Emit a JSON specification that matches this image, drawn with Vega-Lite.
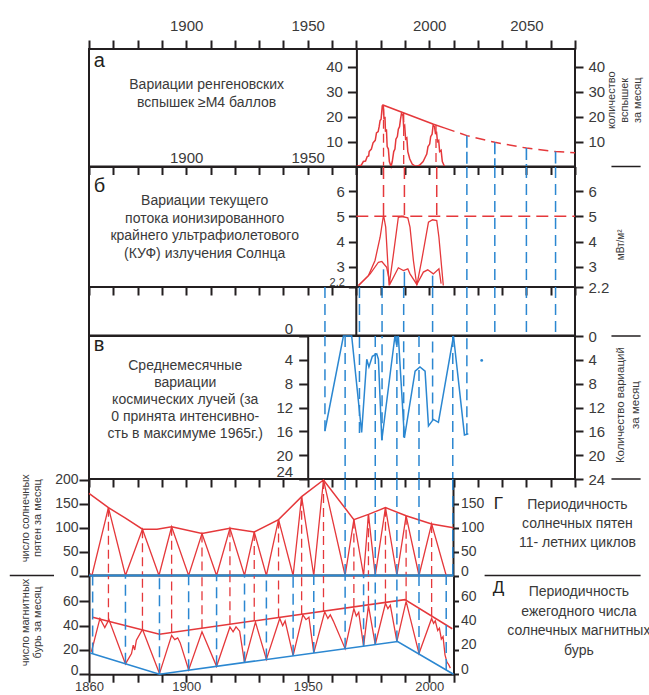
{
 "$schema": "https://vega.github.io/schema/vega-lite/v6.json",
 "background": "white",
 "padding": {"left": 8, "top": 17, "right": 0, "bottom": 0},
 "spacing": 0,
 "bounds": "flush",
 "config": {
  "font": "Liberation Sans",
  "view": {"stroke": "#231f20", "strokeWidth": 2},
  "axis": {"labelFont": "Liberation Sans", "labelFontSize": 15, "labelColor": "#3a3a3a", "tickColor": "#231f20", "domainColor": "#231f20", "tickWidth": 2, "domainWidth": 2, "grid": false, "labelOverlap": false, "labelFlush": false, "labelBound": false},
  "text": {"font": "Liberation Sans", "color": "#3a3a3a"}
 },
 "resolve": {"scale": {"x": "independent", "y": "independent"}},
 "datasets": {
  "a_flare": [{"year":1970,"v":0},{"year":1972,"v":0.5},{"year":1972.9,"v":2},{"year":1973.8,"v":2.2},{"year":1974.5,"v":4},{"year":1975.1,"v":4.2},{"year":1975.3,"v":6},{"year":1976.2,"v":7},{"year":1976.9,"v":9.5},{"year":1977.8,"v":10.5},{"year":1978.3,"v":13.5},{"year":1979,"v":14},{"year":1979.4,"v":16},{"year":1979.8,"v":18.5},{"year":1980.2,"v":19},{"year":1980.7,"v":24.6},{"year":1981.2,"v":23},{"year":1981.4,"v":19},{"year":1981.8,"v":20},{"year":1982,"v":14},{"year":1982.4,"v":15},{"year":1982.7,"v":8},{"year":1983.2,"v":7},{"year":1983.6,"v":2},{"year":1984.3,"v":0},{"year":1984.8,"v":2},{"year":1985.4,"v":6},{"year":1985.9,"v":7},{"year":1986.3,"v":11},{"year":1986.9,"v":12},{"year":1987.3,"v":15},{"year":1987.8,"v":16},{"year":1988.2,"v":19},{"year":1988.6,"v":21.3},{"year":1989.2,"v":20.5},{"year":1989.5,"v":16},{"year":1989.9,"v":16.5},{"year":1990.3,"v":11},{"year":1990.8,"v":11.5},{"year":1991.2,"v":6},{"year":1992,"v":3},{"year":1993,"v":1},{"year":1994.5,"v":0},{"year":1996,"v":0.5},{"year":1997.5,"v":2},{"year":1998.5,"v":4},{"year":1999,"v":5},{"year":1999.5,"v":8},{"year":2000.2,"v":9},{"year":2000.6,"v":12},{"year":2001.2,"v":13},{"year":2001.6,"v":16.5},{"year":2002.2,"v":16},{"year":2002.6,"v":13},{"year":2003,"v":14},{"year":2003.4,"v":10},{"year":2003.9,"v":10.5},{"year":2004.3,"v":6},{"year":2004.9,"v":6.5},{"year":2005.4,"v":2},{"year":2006.3,"v":0}],
  "a_env": [{"year":1980.7,"v":24.8},{"year":1988.8,"v":21.8},{"year":2001.8,"v":17},{"year":2006.5,"v":15.4}],
  "a_env_d": [{"year":2006.5,"v":15.4},{"year":2015.5,"v":12.4},{"year":2027,"v":9.7},{"year":2040,"v":7.4},{"year":2052,"v":6.0},{"year":2060,"v":5.5}],
  "a_red_v": [{"year":1981.2,"top":24.4},{"year":1989.5,"top":21.5},{"year":2002.8,"top":16.7}],
  "a_blue_v": [{"year":2015.5,"top":12.4},{"year":2027,"top":9.7},{"year":2040,"top":7.4},{"year":2052,"top":6.0}],
  "b_up": [{"year":1970.9,"v":2.26},{"year":1975,"v":2.65},{"year":1977.7,"v":3.25},{"year":1979.8,"v":4.17},{"year":1981.2,"v":5.05},{"year":1982.1,"v":4.57},{"year":1983.5,"v":2.26},{"year":1985.3,"v":3.51},{"year":1987.3,"v":4.96},{"year":1988.7,"v":4.99},{"year":1991.2,"v":4.94},{"year":1992.1,"v":4.57},{"year":1993.5,"v":3.25},{"year":1994.9,"v":2.26},{"year":1996.9,"v":3.25},{"year":1999.7,"v":4.77},{"year":2001.4,"v":4.86},{"year":2003.1,"v":4.83},{"year":2004,"v":4.17},{"year":2005.8,"v":2.26}],
  "b_low": [{"year":1970.9,"v":2.26},{"year":1975.7,"v":2.72},{"year":1979.1,"v":3.18},{"year":1980.5,"v":3.21},{"year":1982.5,"v":2.98},{"year":1983.9,"v":2.33},{"year":1987.3,"v":2.96},{"year":1989.4,"v":2.85},{"year":1991.2,"v":2.92},{"year":1992.1,"v":2.72},{"year":1994.9,"v":2.3},{"year":1997.6,"v":2.79},{"year":1999.4,"v":2.88},{"year":2001.7,"v":2.72},{"year":2004,"v":2.92},{"year":2004.9,"v":2.33}],
  "b_red_v": [{"year":1981.2,"top":6.95,"bot":5.05},{"year":1989.8,"top":6.95,"bot":4.98},{"year":2003.1,"top":6.95,"bot":4.83}],
  "b_blue_s": [{"year":1981.2,"top":2.9},{"year":1989.8,"top":2.8},{"year":2001.4,"top":2.65}],
  "b_blue_d": [{"year":2015.5},{"year":2027},{"year":2040},{"year":2052}],
  "s_blue": [{"year":1957.1},{"year":1971.3},{"year":1980.6},{"year":1989.5},{"year":2001.4},{"year":2015.5},{"year":2027},{"year":2040},{"year":2052}],
  "c_cr": [{"year":1957.1,"v":15.9},{"year":1964.7,"v":0},{"year":1968.1,"v":0},{"year":1972.2,"v":16.2},{"year":1974.3,"v":3.9},{"year":1975.2,"v":5.2},{"year":1976.6,"v":3.4},{"year":1978.4,"v":3.0},{"year":1979.1,"v":3.9},{"year":1980.5,"v":17.5},{"year":1985.9,"v":0},{"year":1986.6,"v":1.5},{"year":1987.3,"v":0},{"year":1989.8,"v":17.1},{"year":1994.2,"v":5.9},{"year":1996.2,"v":5.2},{"year":1998.3,"v":5.9},{"year":1999.7,"v":15.1},{"year":2001.7,"v":14},{"year":2003.8,"v":14.5},{"year":2010,"v":0},{"year":2014.5,"v":16.6},{"year":2016.1,"v":16.4}],
  "c_blue_full": [{"year":1965.4},{"year":1977.8},{"year":1986.7},{"year":1995.8},{"year":2009.7}],
  "c_blue_part": [{"year":1957.1,"bot":16},{"year":1971.3,"bot":16.3},{"year":1980.6,"bot":17.5},{"year":1989.5,"bot":17},{"year":2001.4,"bot":14.2},{"year":2015.5,"bot":16.5}],
  "c_dot": [{"year":2021.6,"v":4.1}],
  "d_ss": [{"year":1860.3,"v":4},{"year":1861.2,"v":0},{"year":1868,"v":142},{"year":1875,"v":0},{"year":1882,"v":97},{"year":1888.8,"v":0},{"year":1894,"v":102},{"year":1901,"v":0},{"year":1906.5,"v":88},{"year":1912.5,"v":0},{"year":1918,"v":99},{"year":1924,"v":0},{"year":1928,"v":91},{"year":1933,"v":0},{"year":1938,"v":117},{"year":1944,"v":0},{"year":1947.5,"v":165},{"year":1952.5,"v":0},{"year":1956.5,"v":200},{"year":1965.4,"v":0},{"year":1969,"v":117},{"year":1973,"v":0},{"year":1975,"v":128},{"year":1977.8,"v":0},{"year":1982,"v":142},{"year":1986.7,"v":0},{"year":1990.5,"v":125},{"year":1995.8,"v":0},{"year":2001,"v":108},{"year":2007,"v":0}],
  "d_env": [{"year":1860,"v":172},{"year":1868,"v":142},{"year":1875,"v":120},{"year":1882,"v":97},{"year":1888,"v":97},{"year":1894,"v":102},{"year":1906.5,"v":88},{"year":1918,"v":99},{"year":1928,"v":91},{"year":1938,"v":117},{"year":1947.5,"v":165},{"year":1956.5,"v":200},{"year":1969,"v":117},{"year":1975,"v":128},{"year":1982,"v":142},{"year":1990.5,"v":125},{"year":2001,"v":108},{"year":2010,"v":100}],
  "d_red_v": [{"year":1868,"top":142},{"year":1882,"top":97},{"year":1894,"top":102},{"year":1906.5,"top":88},{"year":1918,"top":99},{"year":1928,"top":91},{"year":1938,"top":117},{"year":1947.5,"top":165},{"year":1956.5,"top":200},{"year":1969,"top":117},{"year":1975,"top":128},{"year":1982,"top":142},{"year":1990.5,"top":125},{"year":2001,"top":108}],
  "d_blue_v": [{"year":1965.4},{"year":1977.8},{"year":1986.7},{"year":1995.8},{"year":2009.7}],
  "e_st": [{"year":1861,"v":18.5},{"year":1864.5,"v":46},{"year":1866.5,"v":38.5},{"year":1868.2,"v":45},{"year":1875,"v":8.5},{"year":1877.5,"v":17},{"year":1878.2,"v":24},{"year":1878.8,"v":20},{"year":1879.5,"v":28},{"year":1882,"v":37},{"year":1889,"v":0.5},{"year":1894,"v":32},{"year":1895.3,"v":28.5},{"year":1896.5,"v":30},{"year":1897.5,"v":26},{"year":1901,"v":3.5},{"year":1906.5,"v":35},{"year":1912.5,"v":6.5},{"year":1918,"v":39},{"year":1919.3,"v":35},{"year":1920.5,"v":39},{"year":1922,"v":35.5},{"year":1924,"v":9.6},{"year":1928.5,"v":43},{"year":1933,"v":12.2},{"year":1938.5,"v":46},{"year":1939.7,"v":40},{"year":1940.7,"v":44},{"year":1944,"v":15.3},{"year":1948,"v":49},{"year":1949.3,"v":45},{"year":1950.5,"v":47},{"year":1952.5,"v":17.6},{"year":1957,"v":51.5},{"year":1958.3,"v":46},{"year":1959.3,"v":49},{"year":1960.5,"v":44},{"year":1965.4,"v":21},{"year":1969,"v":54},{"year":1970,"v":48},{"year":1971,"v":51},{"year":1973,"v":23.2},{"year":1975,"v":56.5},{"year":1977.8,"v":24.5},{"year":1982,"v":58.5},{"year":1983,"v":54},{"year":1984,"v":57},{"year":1986.7,"v":27},{"year":1990.5,"v":60},{"year":1995.8,"v":17},{"year":2001,"v":46},{"year":2001.8,"v":42},{"year":2002.5,"v":44},{"year":2003.5,"v":36},{"year":2004.2,"v":38},{"year":2005,"v":29},{"year":2005.7,"v":31},{"year":2006.5,"v":16},{"year":2007.3,"v":10},{"year":2008,"v":8},{"year":2008.7,"v":5}],
  "e_top": [{"year":1861.5,"v":47},{"year":1889,"v":33},{"year":1990,"v":61.5},{"year":2009.5,"v":37.5}],
  "e_bot": [{"year":1860.5,"v":17.5},{"year":1889,"v":0},{"year":1987,"v":27},{"year":2010,"v":0}],
  "e_blue_v": [{"year":1861.5,"bot":17.1},{"year":1875,"bot":8.7},{"year":1889,"bot":0},{"year":1901,"bot":3.3},{"year":1912.5,"bot":6.5},{"year":1924,"bot":9.6},{"year":1933,"bot":12.1},{"year":1944,"bot":15.2},{"year":1952.5,"bot":17.5},{"year":1965.4,"bot":21},{"year":1973,"bot":23.1},{"year":1977.8,"bot":24.4},{"year":1986.7,"bot":26.9},{"year":1995.8,"bot":16.7},{"year":2007,"bot":3.5}],
  "e_red_v": [{"year":1868,"top":43.7},{"year":1882,"top":36.6},{"year":1894,"top":34.4},{"year":1906.5,"top":37.9},{"year":1918,"top":41.2},{"year":1928,"top":44},{"year":1938,"top":46.8},{"year":1947.5,"top":49.5},{"year":1956.5,"top":52},{"year":1969,"top":55.5},{"year":1975,"top":57.2},{"year":1982,"top":59.2},{"year":1990.5,"top":60.9},{"year":2001,"top":48}],
  "one": [{}]
 },
 "vconcat": [
  {
   "width": 486, "height": 117.5,
   "resolve": {"axis": {"x": "independent", "y": "independent"}},
   "layer": [
    {"data": {"name": "a_flare"}, "mark": {"type": "line", "color": "#e5383b", "strokeWidth": 1.5},
     "encoding": {
      "x": {"field": "year", "type": "quantitative", "scale": {"domain": [1860, 2060], "nice": false, "zero": false}, "axis": {"orient": "top", "title": null, "values": [1860,1870,1880,1890,1900,1910,1920,1930,1940,1950,1960,1970,1980,1990,2000,2010,2020,2030,2040,2050,2060], "format": "d", "labelExpr": "datum.value == 1900 || datum.value == 1950 || datum.value == 2000 ? datum.label : (datum.value == 2040 ? '2050' : '')", "tickSize": 9, "labelPadding": 7, "domain": false}},
      "y": {"field": "v", "type": "quantitative", "scale": {"domain": [0, 47.2], "nice": false, "zero": false}, "axis": {"orient": "left", "title": null, "offset": -267.4, "values": [10,20,30,40], "format": ".3~g", "tickSize": 9, "labelPadding": 5}}}},
    {"data": {"name": "a_env"}, "mark": {"type": "line", "color": "#e5383b", "strokeWidth": 1.5},
     "encoding": {
      "x": {"field": "year", "type": "quantitative", "scale": {"domain": [1860, 2060], "nice": false, "zero": false}, "axis": {"orient": "bottom", "title": null, "values": [1860,1870,1880,1890,1900,1910,1920,1930,1940,1950,1960,1970,1980,1990,2000,2010,2020,2030,2040,2050,2060], "format": "d", "labelExpr": "datum.value == 1900 || datum.value == 1950 ? datum.label : ''", "tickSize": 8, "labelPadding": -12.5, "labelBaseline": "alphabetic", "domain": false}},
      "y": {"field": "v", "type": "quantitative", "scale": {"domain": [0, 47.2], "nice": false, "zero": false}, "axis": {"orient": "right", "title": null, "values": [10,20,30,40], "format": ".3~g", "tickSize": 8, "labelPadding": 5, "domain": false}}}},
    {"data": {"name": "a_env_d"}, "mark": {"type": "line", "color": "#e5383b", "strokeWidth": 1.5, "strokeDash": [10, 6]},
     "encoding": {
      "x": {"field": "year", "type": "quantitative", "scale": {"domain": [1860, 2060], "nice": false, "zero": false}, "axis": null},
      "y": {"field": "v", "type": "quantitative", "scale": {"domain": [0, 47.2], "nice": false, "zero": false}, "axis": null}}},
    {"data": {"name": "a_red_v"}, "mark": {"type": "rule", "color": "#e5383b", "strokeWidth": 1.3, "strokeDash": [9, 5]},
     "encoding": {
      "x": {"field": "year", "type": "quantitative", "scale": {"domain": [1860, 2060], "nice": false, "zero": false}, "axis": null},
      "y": {"field": "top", "type": "quantitative", "scale": {"domain": [0, 47.2], "nice": false, "zero": false}, "axis": null},
      "y2": {"datum": 0}}},
    {"data": {"name": "a_blue_v"}, "mark": {"type": "rule", "color": "#2b87d1", "strokeWidth": 1.6, "strokeDash": [12, 4]},
     "encoding": {
      "x": {"field": "year", "type": "quantitative", "scale": {"domain": [1860, 2060], "nice": false, "zero": false}, "axis": null},
      "y": {"field": "top", "type": "quantitative", "scale": {"domain": [0, 47.2], "nice": false, "zero": false}, "axis": null},
      "y2": {"datum": 0}}},
    {"data": {"name": "one"}, "mark": {"type": "text", "fontSize": 20, "align": "left", "baseline": "alphabetic", "color": "#231f20"},
     "encoding": {
      "x": {"datum": 1862, "type": "quantitative", "scale": {"domain": [1860, 2060], "nice": false, "zero": false}, "axis": null},
      "y": {"datum": 39.8, "type": "quantitative", "scale": {"domain": [0, 47.2], "nice": false, "zero": false}, "axis": null},
      "text": {"value": "а"}}},
    {"data": {"name": "one"}, "mark": {"type": "text", "fontSize": 14, "align": "center", "baseline": "middle", "lineHeight": 18},
     "encoding": {
      "x": {"datum": 1908.4, "type": "quantitative", "scale": {"domain": [1860, 2060], "nice": false, "zero": false}, "axis": null},
      "y": {"datum": 32.6, "type": "quantitative", "scale": {"domain": [0, 47.2], "nice": false, "zero": false}, "axis": null},
      "text": {"value": ["Вариации ренгеновских", "вспышек ≥М4 баллов"]}}},
    {"data": {"name": "one"}, "mark": {"type": "text", "fontSize": 11, "align": "center", "baseline": "middle", "lineHeight": 13, "angle": 270},
     "encoding": {
      "x": {"datum": 2075.1, "type": "quantitative", "scale": {"domain": [1860, 2060], "nice": false, "zero": false}, "axis": null},
      "y": {"datum": 26.6, "type": "quantitative", "scale": {"domain": [0, 47.2], "nice": false, "zero": false}, "axis": null},
      "text": {"value": ["количество", "вспышек", "за месяц"]}}},
    {"data": {"name": "one"}, "mark": {"type": "rule", "color": "#231f20", "strokeWidth": 1.5},
     "encoding": {
      "x": {"datum": 2075, "type": "quantitative", "scale": {"domain": [1860, 2060], "nice": false, "zero": false}, "axis": null},
      "x2": {"datum": 2087},
      "y": {"datum": 0, "type": "quantitative", "scale": {"domain": [0, 47.2], "nice": false, "zero": false}, "axis": null}}}
   ]
  },
  {
   "width": 486, "height": 120,
   "resolve": {"axis": {"x": "independent", "y": "independent"}},
   "layer": [
    {"data": {"name": "b_up"}, "mark": {"type": "line", "color": "#e5383b", "strokeWidth": 1.3},
     "encoding": {
      "x": {"field": "year", "type": "quantitative", "scale": {"domain": [1860, 2060], "nice": false, "zero": false}, "axis": {"orient": "bottom", "title": null, "values": [1860,1870,1880,1890,1900,1910,1920,1930,1940,1950,1960,1970,1980,1990,2000,2010,2020,2030,2040,2050,2060], "labels": false, "tickSize": 8, "domain": false}},
      "y": {"field": "v", "type": "quantitative", "scale": {"domain": [2.2, 6.95], "nice": false, "zero": false}, "axis": {"orient": "left", "title": null, "offset": -267.4, "values": [2.2,3,4,5,6], "format": ".3~g", "tickSize": 8, "labelPadding": 4, "labelFontSize": {"condition": {"test": "datum.value == 2.2", "value": 11}, "value": 15}, "labelBaseline": {"condition": {"test": "datum.value == 2.2", "value": "bottom"}, "value": "middle"}}}}},
    {"data": {"name": "b_low"}, "mark": {"type": "line", "color": "#e5383b", "strokeWidth": 1.3},
     "encoding": {
      "x": {"field": "year", "type": "quantitative", "scale": {"domain": [1860, 2060], "nice": false, "zero": false}, "axis": null},
      "y": {"field": "v", "type": "quantitative", "scale": {"domain": [2.2, 6.95], "nice": false, "zero": false}, "axis": {"orient": "right", "title": null, "values": [2.2,3,4,5,6], "format": ".3~g", "tickSize": 8, "labelPadding": 5, "domain": false}}}},
    {"data": {"name": "one"}, "mark": {"type": "rule", "color": "#e5383b", "strokeWidth": 1.5, "strokeDash": [12, 6]},
     "encoding": {
      "x": {"datum": 1970, "type": "quantitative", "scale": {"domain": [1860, 2060], "nice": false, "zero": false}, "axis": null},
      "x2": {"datum": 2060},
      "y": {"datum": 5, "type": "quantitative", "scale": {"domain": [2.2, 6.95], "nice": false, "zero": false}, "axis": null}}},
    {"data": {"name": "b_red_v"}, "mark": {"type": "rule", "color": "#e5383b", "strokeWidth": 1.5, "strokeDash": [12, 6]},
     "encoding": {
      "x": {"field": "year", "type": "quantitative", "scale": {"domain": [1860, 2060], "nice": false, "zero": false}, "axis": null},
      "y": {"field": "top", "type": "quantitative", "scale": {"domain": [2.2, 6.95], "nice": false, "zero": false}, "axis": null},
      "y2": {"field": "bot"}}},
    {"data": {"name": "b_blue_d"}, "mark": {"type": "rule", "color": "#2b87d1", "strokeWidth": 1.5, "strokeDash": [11, 6]},
     "encoding": {
      "x": {"field": "year", "type": "quantitative", "scale": {"domain": [1860, 2060], "nice": false, "zero": false}, "axis": null}}},
    {"data": {"name": "b_blue_s"}, "mark": {"type": "rule", "color": "#2b87d1", "strokeWidth": 1.5},
     "encoding": {
      "x": {"field": "year", "type": "quantitative", "scale": {"domain": [1860, 2060], "nice": false, "zero": false}, "axis": null},
      "y": {"field": "top", "type": "quantitative", "scale": {"domain": [2.2, 6.95], "nice": false, "zero": false}, "axis": null},
      "y2": {"datum": 2.2}}},
    {"data": {"name": "one"}, "mark": {"type": "text", "fontSize": 20, "align": "left", "baseline": "alphabetic", "color": "#231f20"},
     "encoding": {
      "x": {"datum": 1862, "type": "quantitative", "scale": {"domain": [1860, 2060], "nice": false, "zero": false}, "axis": null},
      "y": {"datum": 5.96, "type": "quantitative", "scale": {"domain": [2.2, 6.95], "nice": false, "zero": false}, "axis": null},
      "text": {"value": "б"}}},
    {"data": {"name": "one"}, "mark": {"type": "text", "fontSize": 14, "align": "center", "baseline": "middle", "lineHeight": 17.5},
     "encoding": {
      "x": {"datum": 1907.6, "type": "quantitative", "scale": {"domain": [1860, 2060], "nice": false, "zero": false}, "axis": null},
      "y": {"datum": 5.6, "type": "quantitative", "scale": {"domain": [2.2, 6.95], "nice": false, "zero": false}, "axis": null},
      "text": {"value": ["Вариации текущего", "потока ионизированного", "крайнего ультрафиолетового", "(КУФ) излучения Солнца"]}}},
    {"data": {"name": "one"}, "mark": {"type": "text", "fontSize": 10, "align": "center", "baseline": "middle", "angle": 270},
     "encoding": {
      "x": {"datum": 2079, "type": "quantitative", "scale": {"domain": [1860, 2060], "nice": false, "zero": false}, "axis": null},
      "y": {"datum": 3.87, "type": "quantitative", "scale": {"domain": [2.2, 6.95], "nice": false, "zero": false}, "axis": null},
      "text": {"value": "мВт/м²"}}}
   ]
  },
  {
   "width": 486, "height": 48.5,
   "layer": [
    {"data": {"name": "s_blue"}, "mark": {"type": "rule", "color": "#2b87d1", "strokeWidth": 1.5, "strokeDash": [11, 6]},
     "encoding": {
      "x": {"field": "year", "type": "quantitative", "scale": {"domain": [1860, 2060], "nice": false, "zero": false}, "axis": null}}},
    {"data": {"name": "one"}, "mark": {"type": "rule", "color": "#231f20", "strokeWidth": 2},
     "encoding": {
      "x": {"datum": 1970, "type": "quantitative", "scale": {"domain": [1860, 2060], "nice": false, "zero": false}, "axis": null}}}
   ]
  },
  {
   "width": 486, "height": 143,
   "resolve": {"axis": {"x": "independent", "y": "independent"}},
   "layer": [
    {"data": {"name": "c_cr"}, "mark": {"type": "line", "color": "#2b87d1", "strokeWidth": 1.5},
     "encoding": {
      "x": {"field": "year", "type": "quantitative", "scale": {"domain": [1860, 2060], "nice": false, "zero": false}, "axis": {"orient": "bottom", "title": null, "values": [1860,1870,1880,1890,1900,1910,1920,1930,1940,1950,1960,1970,1980,1990,2000,2010,2020,2030,2040,2050,2060], "labels": false, "tickSize": 8, "domain": false}},
      "y": {"field": "v", "type": "quantitative", "scale": {"domain": [0, 24], "nice": false, "zero": false, "reverse": true}, "axis": {"orient": "left", "title": null, "offset": -218.7, "values": [0,4,8,12,16,20,24], "format": ".3~g", "tickSize": 9, "labelPadding": 6, "labelBaseline": {"condition": {"test": "datum.value == 0 || datum.value == 24", "value": "bottom"}, "value": "middle"}}}}},
    {"data": {"name": "c_blue_full"}, "mark": {"type": "rule", "color": "#2b87d1", "strokeWidth": 1.5, "strokeDash": [11, 6]},
     "encoding": {
      "x": {"field": "year", "type": "quantitative", "scale": {"domain": [1860, 2060], "nice": false, "zero": false}, "axis": null}}},
    {"data": {"name": "c_blue_part"}, "mark": {"type": "rule", "color": "#2b87d1", "strokeWidth": 1.5, "strokeDash": [11, 6]},
     "encoding": {
      "x": {"field": "year", "type": "quantitative", "scale": {"domain": [1860, 2060], "nice": false, "zero": false}, "axis": null},
      "y": {"field": "bot", "type": "quantitative", "scale": {"domain": [0, 24], "nice": false, "zero": false, "reverse": true}, "axis": null},
      "y2": {"datum": 0}}},
    {"data": {"name": "c_dot"}, "mark": {"type": "circle", "color": "#2b87d1", "size": 8, "opacity": 1},
     "encoding": {
      "x": {"field": "year", "type": "quantitative", "scale": {"domain": [1860, 2060], "nice": false, "zero": false}, "axis": null},
      "y": {"field": "v", "type": "quantitative", "scale": {"domain": [0, 24], "nice": false, "zero": false, "reverse": true}, "axis": {"orient": "right", "title": null, "values": [0,4,8,12,16,20,24], "format": ".3~g", "tickSize": 8, "labelPadding": 5, "domain": false}}}},
    {"data": {"name": "one"}, "mark": {"type": "text", "fontSize": 20, "align": "left", "baseline": "alphabetic", "color": "#231f20"},
     "encoding": {
      "x": {"datum": 1862, "type": "quantitative", "scale": {"domain": [1860, 2060], "nice": false, "zero": false}, "axis": null},
      "y": {"datum": 2.5, "type": "quantitative", "scale": {"domain": [0, 24], "nice": false, "zero": false, "reverse": true}, "axis": null},
      "text": {"value": "в"}}},
    {"data": {"name": "one"}, "mark": {"type": "text", "fontSize": 14, "align": "center", "baseline": "middle", "lineHeight": 17},
     "encoding": {
      "x": {"datum": 1899.6, "type": "quantitative", "scale": {"domain": [1860, 2060], "nice": false, "zero": false}, "axis": null},
      "y": {"datum": 5.1, "type": "quantitative", "scale": {"domain": [0, 24], "nice": false, "zero": false, "reverse": true}, "axis": null},
      "text": {"value": ["Среднемесячные", "вариации", "космических лучей (за", "0  принята интенсивно-", "сть  в максимуме 1965г.)"]}}},
    {"data": {"name": "one"}, "mark": {"type": "text", "fontSize": 11.5, "align": "center", "baseline": "middle", "lineHeight": 15, "angle": 270},
     "encoding": {
      "x": {"datum": 2078.8, "type": "quantitative", "scale": {"domain": [1860, 2060], "nice": false, "zero": false}, "axis": null},
      "y": {"datum": 11.6, "type": "quantitative", "scale": {"domain": [0, 24], "nice": false, "zero": false, "reverse": true}, "axis": null},
      "text": {"value": ["Количество вариаций", "за месяц"]}}},
    {"data": {"name": "one"}, "mark": {"type": "rule", "color": "#231f20", "strokeWidth": 1.5},
     "encoding": {
      "x": {"datum": 2075, "type": "quantitative", "scale": {"domain": [1860, 2060], "nice": false, "zero": false}, "axis": null},
      "x2": {"datum": 2087},
      "y": {"datum": 0, "type": "quantitative", "scale": {"domain": [0, 24], "nice": false, "zero": false, "reverse": true}, "axis": null}}},
    {"data": {"name": "one"}, "mark": {"type": "rule", "color": "#231f20", "strokeWidth": 1.5},
     "encoding": {
      "x": {"datum": 2075, "type": "quantitative", "scale": {"domain": [1860, 2060], "nice": false, "zero": false}, "axis": null},
      "x2": {"datum": 2087},
      "y": {"datum": 24, "type": "quantitative", "scale": {"domain": [0, 24], "nice": false, "zero": false, "reverse": true}, "axis": null}}}
   ]
  },
  {
   "width": 364.5, "height": 96.5,
   "resolve": {"axis": {"x": "independent", "y": "independent"}},
   "layer": [
    {"data": {"name": "d_ss"}, "mark": {"type": "line", "color": "#e5383b", "strokeWidth": 1.3},
     "encoding": {
      "x": {"field": "year", "type": "quantitative", "scale": {"domain": [1860, 2010], "nice": false, "zero": false}, "axis": null},
      "y": {"field": "v", "type": "quantitative", "scale": {"domain": [0, 202], "nice": false, "zero": false}, "axis": {"orient": "left", "title": null, "values": [0,50,100,150,200], "format": ".3~g", "tickSize": 10, "labelPadding": 1, "labelFontSize": 14, "domain": false, "labelBaseline": {"condition": {"test": "datum.value == 0", "value": "alphabetic"}, "value": "middle"}}}}},
    {"data": {"name": "d_env"}, "mark": {"type": "line", "color": "#e5383b", "strokeWidth": 1.5},
     "encoding": {
      "x": {"field": "year", "type": "quantitative", "scale": {"domain": [1860, 2010], "nice": false, "zero": false}, "axis": null},
      "y": {"field": "v", "type": "quantitative", "scale": {"domain": [0, 202], "nice": false, "zero": false}, "axis": {"orient": "right", "title": null, "values": [0,50,100,150], "format": ".3~g", "tickSize": 5, "labelPadding": 2, "labelFontSize": 14, "domain": false, "labelBaseline": {"condition": {"test": "datum.value == 0", "value": "alphabetic"}, "value": "middle"}}}}},
    {"data": {"name": "d_red_v"}, "mark": {"type": "rule", "color": "#e5383b", "strokeWidth": 1.3, "strokeDash": [9, 5]},
     "encoding": {
      "x": {"field": "year", "type": "quantitative", "scale": {"domain": [1860, 2010], "nice": false, "zero": false}, "axis": null},
      "y": {"field": "top", "type": "quantitative", "scale": {"domain": [0, 202], "nice": false, "zero": false}, "axis": null},
      "y2": {"datum": 0}}},
    {"data": {"name": "d_blue_v"}, "mark": {"type": "rule", "color": "#2b87d1", "strokeWidth": 1.5, "strokeDash": [11, 6]},
     "encoding": {
      "x": {"field": "year", "type": "quantitative", "scale": {"domain": [1860, 2010], "nice": false, "zero": false}, "axis": null}}},
    {"data": {"name": "one"}, "mark": {"type": "rule", "color": "#2b87d1", "strokeWidth": 2},
     "encoding": {
      "x": {"datum": 1860, "type": "quantitative", "scale": {"domain": [1860, 2010], "nice": false, "zero": false}, "axis": null},
      "x2": {"datum": 2010},
      "y": {"datum": 0, "type": "quantitative", "scale": {"domain": [0, 202], "nice": false, "zero": false}, "axis": null}}},
    {"data": {"name": "one"}, "mark": {"type": "rule", "color": "#231f20", "strokeWidth": 1.5},
     "encoding": {
      "x": {"datum": 2022.8, "type": "quantitative", "scale": {"domain": [1860, 2010], "nice": false, "zero": false}, "axis": null},
      "x2": {"datum": 2087},
      "y": {"datum": 0, "type": "quantitative", "scale": {"domain": [0, 202], "nice": false, "zero": false}, "axis": null}}},
    {"data": {"name": "one"}, "mark": {"type": "rule", "color": "#231f20", "strokeWidth": 1.5},
     "encoding": {
      "x": {"datum": 1827.4, "type": "quantitative", "scale": {"domain": [1860, 2010], "nice": false, "zero": false}, "axis": null},
      "x2": {"datum": 1845.6},
      "y": {"datum": 0, "type": "quantitative", "scale": {"domain": [0, 202], "nice": false, "zero": false}, "axis": null}}},
    {"data": {"name": "one"}, "mark": {"type": "text", "fontSize": 17, "align": "center", "baseline": "middle", "color": "#231f20"},
     "encoding": {
      "x": {"datum": 2028.5, "type": "quantitative", "scale": {"domain": [1860, 2010], "nice": false, "zero": false}, "axis": null},
      "y": {"datum": 150, "type": "quantitative", "scale": {"domain": [0, 202], "nice": false, "zero": false}, "axis": null},
      "text": {"value": "Г"}}},
    {"data": {"name": "one"}, "mark": {"type": "text", "fontSize": 14, "align": "center", "baseline": "middle", "lineHeight": 19},
     "encoding": {
      "x": {"datum": 2061, "type": "quantitative", "scale": {"domain": [1860, 2010], "nice": false, "zero": false}, "axis": null},
      "y": {"datum": 148, "type": "quantitative", "scale": {"domain": [0, 202], "nice": false, "zero": false}, "axis": null},
      "text": {"value": ["Периодичность", "солнечных пятен", "11- летних циклов"]}}},
    {"data": {"name": "one"}, "mark": {"type": "text", "fontSize": 11, "align": "center", "baseline": "middle", "lineHeight": 12, "angle": 270},
     "encoding": {
      "x": {"datum": 1834, "type": "quantitative", "scale": {"domain": [1860, 2010], "nice": false, "zero": false}, "axis": null},
      "y": {"datum": 120, "type": "quantitative", "scale": {"domain": [0, 202], "nice": false, "zero": false}, "axis": null},
      "text": {"value": ["число солнечных", "пятен за месяц"]}}}
   ]
  },
  {
   "width": 364.5, "height": 98.2,
   "view": {"stroke": null},
   "resolve": {"axis": {"x": "independent", "y": "independent"}},
   "layer": [
    {"data": {"name": "e_st"}, "mark": {"type": "line", "color": "#e5383b", "strokeWidth": 1.3},
     "encoding": {
      "x": {"field": "year", "type": "quantitative", "scale": {"domain": [1860, 2010], "nice": false, "zero": false}, "axis": {"orient": "bottom", "title": null, "values": [1860,1870,1880,1890,1900,1910,1920,1930,1940,1950,1960,1970,1980,1990,2000,2010], "format": "d", "labelExpr": "datum.value == 1860 || datum.value == 1900 || datum.value == 1950 || datum.value == 2000 ? datum.label : ''", "tickSize": 8, "labelPadding": -2, "labelFontSize": 13}},
      "y": {"field": "v", "type": "quantitative", "scale": {"domain": [0, 81], "nice": false, "zero": false}, "axis": {"orient": "left", "title": null, "values": [0,20,40,60], "format": ".3~g", "tickSize": 10, "labelPadding": 1, "labelFontSize": 14, "labelBaseline": {"condition": {"test": "datum.value == 0", "value": "alphabetic"}, "value": "middle"}}}}},
    {"data": {"name": "e_top"}, "mark": {"type": "line", "color": "#e5383b", "strokeWidth": 1.5},
     "encoding": {
      "x": {"field": "year", "type": "quantitative", "scale": {"domain": [1860, 2010], "nice": false, "zero": false}, "axis": null},
      "y": {"field": "v", "type": "quantitative", "scale": {"domain": [0, 81], "nice": false, "zero": false}, "axis": {"orient": "right", "title": null, "values": [0,20,40,60], "format": ".3~g", "tickSize": 5, "labelPadding": 2, "labelFontSize": 14, "labelOffset": -5}}}},
    {"data": {"name": "e_bot"}, "mark": {"type": "line", "color": "#2b87d1", "strokeWidth": 1.6},
     "encoding": {
      "x": {"field": "year", "type": "quantitative", "scale": {"domain": [1860, 2010], "nice": false, "zero": false}, "axis": null},
      "y": {"field": "v", "type": "quantitative", "scale": {"domain": [0, 81], "nice": false, "zero": false}, "axis": null}}},
    {"data": {"name": "e_blue_v"}, "mark": {"type": "rule", "color": "#2b87d1", "strokeWidth": 1.5, "strokeDash": [11, 6]},
     "encoding": {
      "x": {"field": "year", "type": "quantitative", "scale": {"domain": [1860, 2010], "nice": false, "zero": false}, "axis": null},
      "y": {"field": "bot", "type": "quantitative", "scale": {"domain": [0, 81], "nice": false, "zero": false}, "axis": null},
      "y2": {"datum": 81}}},
    {"data": {"name": "e_red_v"}, "mark": {"type": "rule", "color": "#e5383b", "strokeWidth": 1.3, "strokeDash": [9, 5]},
     "encoding": {
      "x": {"field": "year", "type": "quantitative", "scale": {"domain": [1860, 2010], "nice": false, "zero": false}, "axis": null},
      "y": {"field": "top", "type": "quantitative", "scale": {"domain": [0, 81], "nice": false, "zero": false}, "axis": null},
      "y2": {"datum": 81}}},
    {"data": {"name": "one"}, "mark": {"type": "text", "fontSize": 17, "align": "center", "baseline": "middle", "color": "#231f20"},
     "encoding": {
      "x": {"datum": 2028.5, "type": "quantitative", "scale": {"domain": [1860, 2010], "nice": false, "zero": false}, "axis": null},
      "y": {"datum": 71, "type": "quantitative", "scale": {"domain": [0, 81], "nice": false, "zero": false}, "axis": null},
      "text": {"value": "Д"}}},
    {"data": {"name": "one"}, "mark": {"type": "text", "fontSize": 14, "align": "center", "baseline": "middle", "lineHeight": 19.5},
     "encoding": {
      "x": {"datum": 2061.6, "type": "quantitative", "scale": {"domain": [1860, 2010], "nice": false, "zero": false}, "axis": null},
      "y": {"datum": 67.4, "type": "quantitative", "scale": {"domain": [0, 81], "nice": false, "zero": false}, "axis": null},
      "text": {"value": ["Периодичность", "ежегодного числа", "солнечных магнитных", "бурь"]}}},
    {"data": {"name": "one"}, "mark": {"type": "text", "fontSize": 11, "align": "center", "baseline": "middle", "lineHeight": 12, "angle": 270},
     "encoding": {
      "x": {"datum": 1834, "type": "quantitative", "scale": {"domain": [1860, 2010], "nice": false, "zero": false}, "axis": null},
      "y": {"datum": 42.7, "type": "quantitative", "scale": {"domain": [0, 81], "nice": false, "zero": false}, "axis": null},
      "text": {"value": ["число магнитных", "бурь за месяц"]}}}
   ]
  }
 ]
}
